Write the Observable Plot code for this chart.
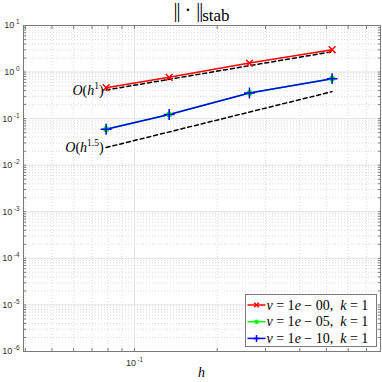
<!DOCTYPE html>
<html><head><meta charset="utf-8">
<script src="https://cdn.jsdelivr.net/npm/d3@7"></script>
<script src="https://cdn.jsdelivr.net/npm/@observablehq/plot@0.6"></script>
<style>body{margin:0;background:#fff} svg{display:block}</style>
</head><body><div id="chart"></div>
<script>
// ---- data ----
const h = [0.0788, 0.1337, 0.2622, 0.5245];
const errNu00 = [0.463, 0.770, 1.56, 3.02];
const errNu05 = [0.0593, 0.1225, 0.355, 0.722];
const errNu10 = [0.0593, 0.1225, 0.355, 0.722];
const refH = [0.0788, 0.5245];
const refOrder1 = [0.412, 2.74];
const refOrder15 = [0.0240, 0.380];
const refExponents = ["1", "1.5"];
const seriesNu = ["00", "05", "10"];
const seriesColors = ["#ff0000", "#00ff00", "#0000ff"];
const xDomain = [0.0394, 0.787];
const yDomain = [1e-6, 1e1];
const yTicks = [1e1, 1e0, 1e-1, 1e-2, 1e-3, 1e-4, 1e-5, 1e-6];
const xTicks = [1e-1];
const titleNorm = ["||", " · ", "||"];
const titleSub = "stab";
const xLabel = "h";

(function () {
const rows = (errs) => h.map((v, i) => ({h: v, e: errs[i]}));
const s00 = rows(errNu00), s05 = rows(errNu05), s10 = rows(errNu10);
const r1 = refH.map((v, i) => ({h: v, e: refOrder1[i]}));
const r15 = refH.map((v, i) => ({h: v, e: refOrder15[i]}));

const xMinor = d3.scaleLog().domain(xDomain).ticks();
const yMinor = d3.scaleLog().domain(yDomain).ticks();
const axisColor = "#7a7a7a";
const expOf = d => String(Math.round(Math.log10(d)));

const plot = Plot.plot({
  width: 382, height: 382,
  marginLeft: 23, marginRight: 2, marginTop: 25, marginBottom: 31,
  x: {type: "log", domain: xDomain},
  y: {type: "log", domain: yDomain},
  style: {background: "white", fontFamily: "'Liberation Sans', sans-serif", color: "#262626"},
  marks: [
    Plot.gridX(xMinor, {stroke: "#dadada", strokeOpacity: 1, strokeDasharray: "1,2"}),
    Plot.gridY(yMinor, {stroke: "#dadada", strokeOpacity: 1, strokeDasharray: "1,2"}),
    Plot.gridX(xTicks, {stroke: "#e4e4e4", strokeOpacity: 1}),
    Plot.gridY(yTicks, {stroke: "#e4e4e4", strokeOpacity: 1}),
    Plot.frame({stroke: axisColor}),
    Plot.axisY(yMinor, {anchor: "left", tickSize: -3, text: null, label: null, stroke: axisColor}),
    Plot.axisY(yMinor, {anchor: "right", tickSize: -3, text: null, label: null, stroke: axisColor}),
    Plot.axisX(xMinor, {anchor: "bottom", tickSize: -3, text: null, label: null, stroke: axisColor}),
    Plot.axisX(xMinor, {anchor: "top", tickSize: -3, text: null, label: null, stroke: axisColor}),
    Plot.axisY(yTicks, {anchor: "left", tickSize: 0, tickPadding: 4, tickFormat: expOf, label: null, fontSize: 9, fill: "#333"}),
    Plot.axisX(xTicks, {anchor: "bottom", tickSize: 0, tickPadding: 8, tickFormat: expOf, label: null, fontSize: 9, fill: "#333"}),
    Plot.line(r1, {x: "h", y: "e", stroke: "black", strokeWidth: 1.5, strokeDasharray: "4,3"}),
    Plot.line(r15, {x: "h", y: "e", stroke: "black", strokeWidth: 1.5, strokeDasharray: "4,3"}),
    Plot.line(s00, {x: "h", y: "e", stroke: seriesColors[0], strokeWidth: 1.5}),
    Plot.line(s05, {x: "h", y: "e", stroke: seriesColors[1], strokeWidth: 1.5}),
    Plot.line(s10, {x: "h", y: "e", stroke: seriesColors[2], strokeWidth: 1.5}),
    Plot.dot(s00, {x: "h", y: "e", symbol: "times", r: 3.2, stroke: seriesColors[0], strokeWidth: 1.5}),
    Plot.dot(s05, {x: "h", y: "e", symbol: "circle", r: 2.6, fill: seriesColors[1], stroke: seriesColors[1], strokeWidth: 1}),
    Plot.dot(s10, {x: "h", y: "e", symbol: "plus", r: 3.6, stroke: seriesColors[2], strokeWidth: 1.5})
  ]
});

const svg = d3.select(plot);
const serif = "'Liberation Serif', 'DejaVu Serif', serif";

// superscript tick labels (only non-empty labels)
svg.selectAll("text").each(function() {
  const g = this.parentNode;
  const lab = (g && g.getAttribute && g.getAttribute("aria-label")) || "";
  if (!/tick label/.test(lab)) return;
  const e = this.textContent;
  if (!e || !/^-?\d+$/.test(e)) return;
  const t = d3.select(this);
  t.text(null);
  t.append("tspan").text("10");
  t.append("tspan").attr("dx", 1.5).attr("dy", -4).attr("font-size", 6.5).text(e);
});

const xs = plot.scale("x"), ys = plot.scale("y");
const pLeft = 23, pRight = 380;

// title
const title = svg.append("text").attr("x", (pLeft + pRight) / 2).attr("y", 17)
  .attr("text-anchor", "middle").attr("font-family", serif).attr("font-size", 20).attr("fill", "#000");
title.append("tspan").attr("letter-spacing", -1).text(titleNorm[0]);
title.append("tspan").text(titleNorm[1]);
title.append("tspan").attr("letter-spacing", -1).text(titleNorm[2]);
title.append("tspan").attr("dy", 3.5).attr("font-size", 17).text(titleSub);

// x label
svg.append("text").attr("x", (pLeft + pRight) / 2).attr("y", 377).attr("text-anchor", "middle")
  .attr("font-family", serif).attr("font-size", 14).attr("font-style", "italic").attr("fill", "#000").text(xLabel);

// reference-slope labels
[[r1, refExponents[0]], [r15, refExponents[1]]].forEach(([d, p]) => {
  const t = svg.append("text").attr("x", xs.apply(d[0].h) - 2).attr("y", ys.apply(d[0].e) + 5)
    .attr("text-anchor", "end").attr("font-family", serif).attr("font-size", 14).attr("fill", "#000");
  t.append("tspan").attr("font-style", "italic").text("O");
  t.append("tspan").text("(");
  t.append("tspan").attr("font-style", "italic").text("h");
  t.append("tspan").attr("dy", -6).attr("font-size", 9.5).text(p);
  t.append("tspan").attr("dy", 6).text(")");
});

// legend
const lg = svg.append("g");
const lx = 245.5, ly = 294.5, lw = 131, lh = 52;
lg.append("rect").attr("x", lx).attr("y", ly).attr("width", lw).attr("height", lh)
  .attr("fill", "white").attr("stroke", axisColor).attr("stroke-width", 1);
const symPaths = [
  "M-2.3,-2.3L2.3,2.3M-2.3,2.3L2.3,-2.3",
  null,
  "M-3.5,0H3.5M0,-3.5V3.5"
];
seriesNu.forEach((nu, i) => {
  const cy = ly + 10.5 + i * 16.7;
  lg.append("line").attr("x1", lx + 2).attr("x2", lx + 20).attr("y1", cy).attr("y2", cy)
    .attr("stroke", seriesColors[i]).attr("stroke-width", 1.5);
  if (symPaths[i]) {
    lg.append("path").attr("d", symPaths[i]).attr("transform", `translate(${lx + 11},${cy})`)
      .attr("stroke", seriesColors[i]).attr("stroke-width", 1.5).attr("fill", "none");
  } else {
    lg.append("circle").attr("cx", lx + 11).attr("cy", cy).attr("r", 2.3).attr("fill", seriesColors[i]);
  }
  const t = lg.append("text").attr("x", lx + 21).attr("y", cy + 4.5).attr("text-anchor", "start")
    .attr("font-family", serif).attr("font-size", 14).attr("fill", "#000");
  t.append("tspan").attr("font-style", "italic").text("ν");
  t.append("tspan").text(" = 1");
  t.append("tspan").attr("font-style", "italic").text("e");
  t.append("tspan").text(" − " + nu + ",  ");
  t.append("tspan").attr("font-style", "italic").text("k");
  t.append("tspan").text(" = 1");
});

document.getElementById("chart").appendChild(plot);
})();
</script>
</body></html>
